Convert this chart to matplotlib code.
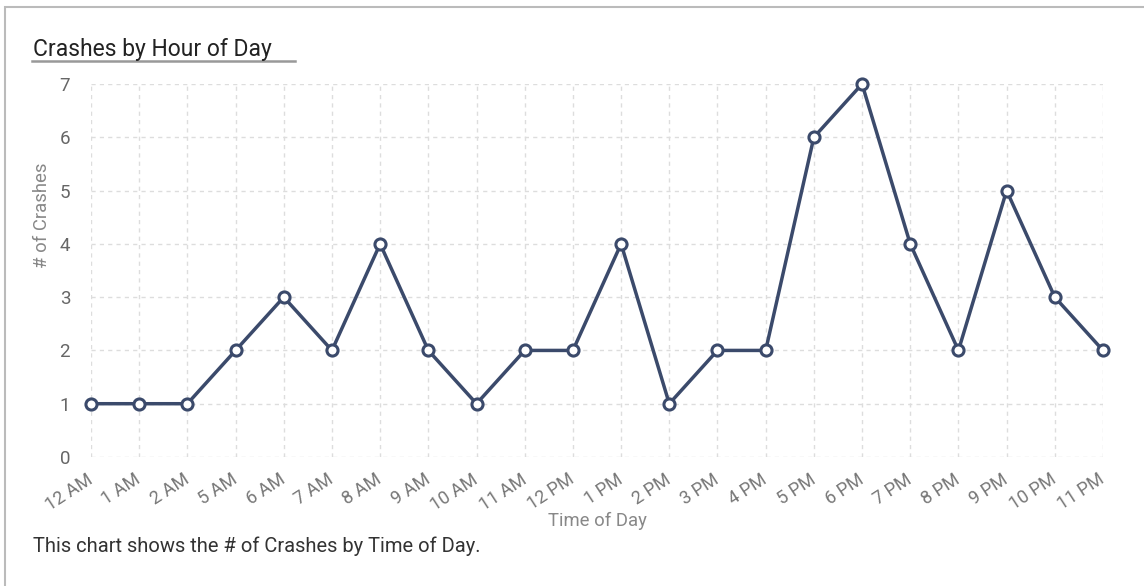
import matplotlib
matplotlib.use('Agg')
import matplotlib.pyplot as plt
from matplotlib.patches import Rectangle
from matplotlib.lines import Line2D

# data
hours = ['12 AM', '1 AM', '2 AM', '5 AM', '6 AM', '7 AM', '8 AM', '9 AM', '10 AM', '11 AM',
         '12 PM', '1 PM', '2 PM', '3 PM', '4 PM', '5 PM', '6 PM', '7 PM', '8 PM', '9 PM',
         '10 PM', '11 PM']
crashes = [1, 1, 1, 2, 3, 2, 4, 2, 1, 2, 2, 4, 1, 2, 2, 6, 7, 4, 2, 5, 3, 2]
yticks = [0, 1, 2, 3, 4, 5, 6, 7]

plt.rcParams['font.family'] = ['Roboto', 'DejaVu Sans']

W, H = 1144, 586
fig = plt.figure(figsize=(W/100, H/100), dpi=100)
ax = fig.add_axes([91/W, 1-457/H, (1103-91)/W, (457-84)/H])

x = list(range(len(hours)))
ax.plot(x, crashes, color='#3b4a6b', lw=2.5, marker='o', ms=8,
        mfc='white', mec='#3b4a6b', mew=2.2, zorder=3, clip_on=False)

ax.set_xlim(0, len(hours)-1)
ax.set_ylim(0, 7)
ax.set_xticks(x)
ax.set_xticklabels(hours, rotation=33, ha='right', va='center', rotation_mode='anchor')
ax.set_yticks(yticks)
ax.tick_params(axis='both', length=0, colors='#666666', labelsize=13.5)
ax.tick_params(axis='x', pad=15, colors='#777777', labelsize=13)
ax.tick_params(axis='y', pad=15)
ax.grid(True, color='#dddddd', ls=(0, (3, 3)), lw=1)
for s in ax.spines.values():
    s.set_visible(False)

ax.set_xlabel('Time of Day', color='#888888', fontsize=13.3, va='center')
ax.xaxis.set_label_coords(0.5, (457-521)/373)
ax.set_ylabel('# of Crashes', color='#888888', fontsize=13.3, va='center')
ax.yaxis.set_label_coords((42-91)/1012, (457-215)/373)

# card frame, title and caption
fig.patches.append(Rectangle((5/W, -0.1), 1.1, 1-7/H+0.1, transform=fig.transFigure,
                             fill=False, ec='#bbbbbb', lw=1.5))
fig.text(33/W, 1-56/H, 'Crashes by Hour of Day', fontsize=16.5, color='#222222', va='baseline')
fig.lines.append(Line2D([32/W, 295/W], [1-60.5/H, 1-60.5/H], transform=fig.transFigure,
                        color='#999999', lw=1.8))
fig.text(33/W, 1-552/H, 'This chart shows the # of Crashes by Time of Day.',
         fontsize=14.5, color='#333333', va='baseline')

fig.savefig('out.png', dpi=100)
